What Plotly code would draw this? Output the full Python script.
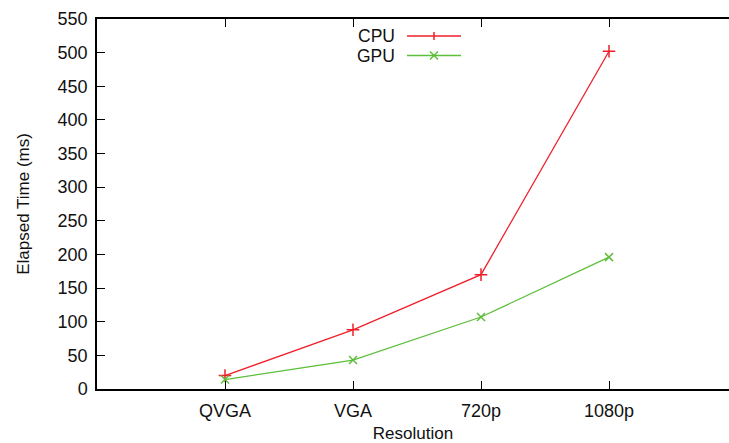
import plotly.graph_objects as go

categories = ["QVGA", "VGA", "720p", "1080p"]
cpu_ms = [20, 88, 170, 502]
gpu_ms = [14, 43, 107, 196]
y_ticks = list(range(0, 551, 50))

W, H = 729, 443
L, R, T, B = 97, 0, 19, 54
pw, ph = W - L - R, H - T - B

RED = "#f0202a"
GREEN = "#5dbe3a"
FONT = "Liberation Sans, Arial, sans-serif"

def px(xp):
    return (xp - L) / pw

def py(yp):
    return (H - B - yp) / ph

fig = go.Figure()
x_idx = list(range(len(categories)))
fig.add_trace(go.Scatter(x=x_idx, y=cpu_ms, mode="lines+markers", name="CPU",
                         line=dict(color=RED, width=1.3),
                         marker=dict(symbol="cross-thin", size=9, line=dict(color=RED, width=1.5)),
                         showlegend=False))
fig.add_trace(go.Scatter(x=x_idx, y=gpu_ms, mode="lines+markers", name="GPU",
                         line=dict(color=GREEN, width=1.3),
                         marker=dict(symbol="x-thin", size=8, line=dict(color=GREEN, width=1.5)),
                         showlegend=False))

# manual gnuplot-style key (text left, sample right)
shapes = []
annotations = []
for i, (name, col, sym) in enumerate([("CPU", RED, "+"), ("GPU", GREEN, "x")]):
    yc = 36 + i * 19.5
    annotations.append(dict(x=px(396), y=py(yc), xref="paper", yref="paper",
                            text=name, showarrow=False, xanchor="right", yanchor="middle",
                            borderpad=0, font=dict(family=FONT, size=17.5, color="#111")))
    shapes.append(dict(type="line", xref="paper", yref="paper",
                       x0=px(407), x1=px(461), y0=py(yc), y1=py(yc),
                       line=dict(color=col, width=1.3)))
    mx, s = 434, 4
    if sym == "+":
        shapes.append(dict(type="line", xref="paper", yref="paper", x0=px(mx), x1=px(mx),
                           y0=py(yc - s), y1=py(yc + s), line=dict(color=col, width=1.5)))
    else:
        shapes.append(dict(type="line", xref="paper", yref="paper", x0=px(mx - 4), x1=px(mx + 4),
                           y0=py(yc - 4), y1=py(yc + 4), line=dict(color=col, width=1.5)))
        shapes.append(dict(type="line", xref="paper", yref="paper", x0=px(mx - 4), x1=px(mx + 4),
                           y0=py(yc + 4), y1=py(yc - 4), line=dict(color=col, width=1.5)))

fig.update_layout(
    width=W, height=H,
    margin=dict(l=L, r=R, t=T, b=B),
    paper_bgcolor="white", plot_bgcolor="white",
    font=dict(family=FONT, size=18, color="#111"),
    shapes=shapes, annotations=annotations,
    xaxis=dict(range=[-1, -1 + pw / 128], tickmode="array", tickvals=x_idx, ticktext=categories,
               showgrid=False, zeroline=False, showline=True, linecolor="#000", linewidth=1.5,
               mirror="ticks", ticks="inside", ticklen=8, tickwidth=1, tickcolor="#000",
               ticklabelstandoff=5,
               title=dict(text="Resolution", font=dict(size=17), standoff=8)),
    yaxis=dict(range=[0, 550], tickmode="array", tickvals=y_ticks,
               showgrid=False, zeroline=False, showline=True, linecolor="#000", linewidth=1.5,
               mirror=False, ticks="inside", ticklen=8, tickwidth=1, tickcolor="#000",
               ticklabelstandoff=4,
               title=dict(text="Elapsed Time (ms)", font=dict(size=17), standoff=24)),
)

fig.write_html("out.html")
